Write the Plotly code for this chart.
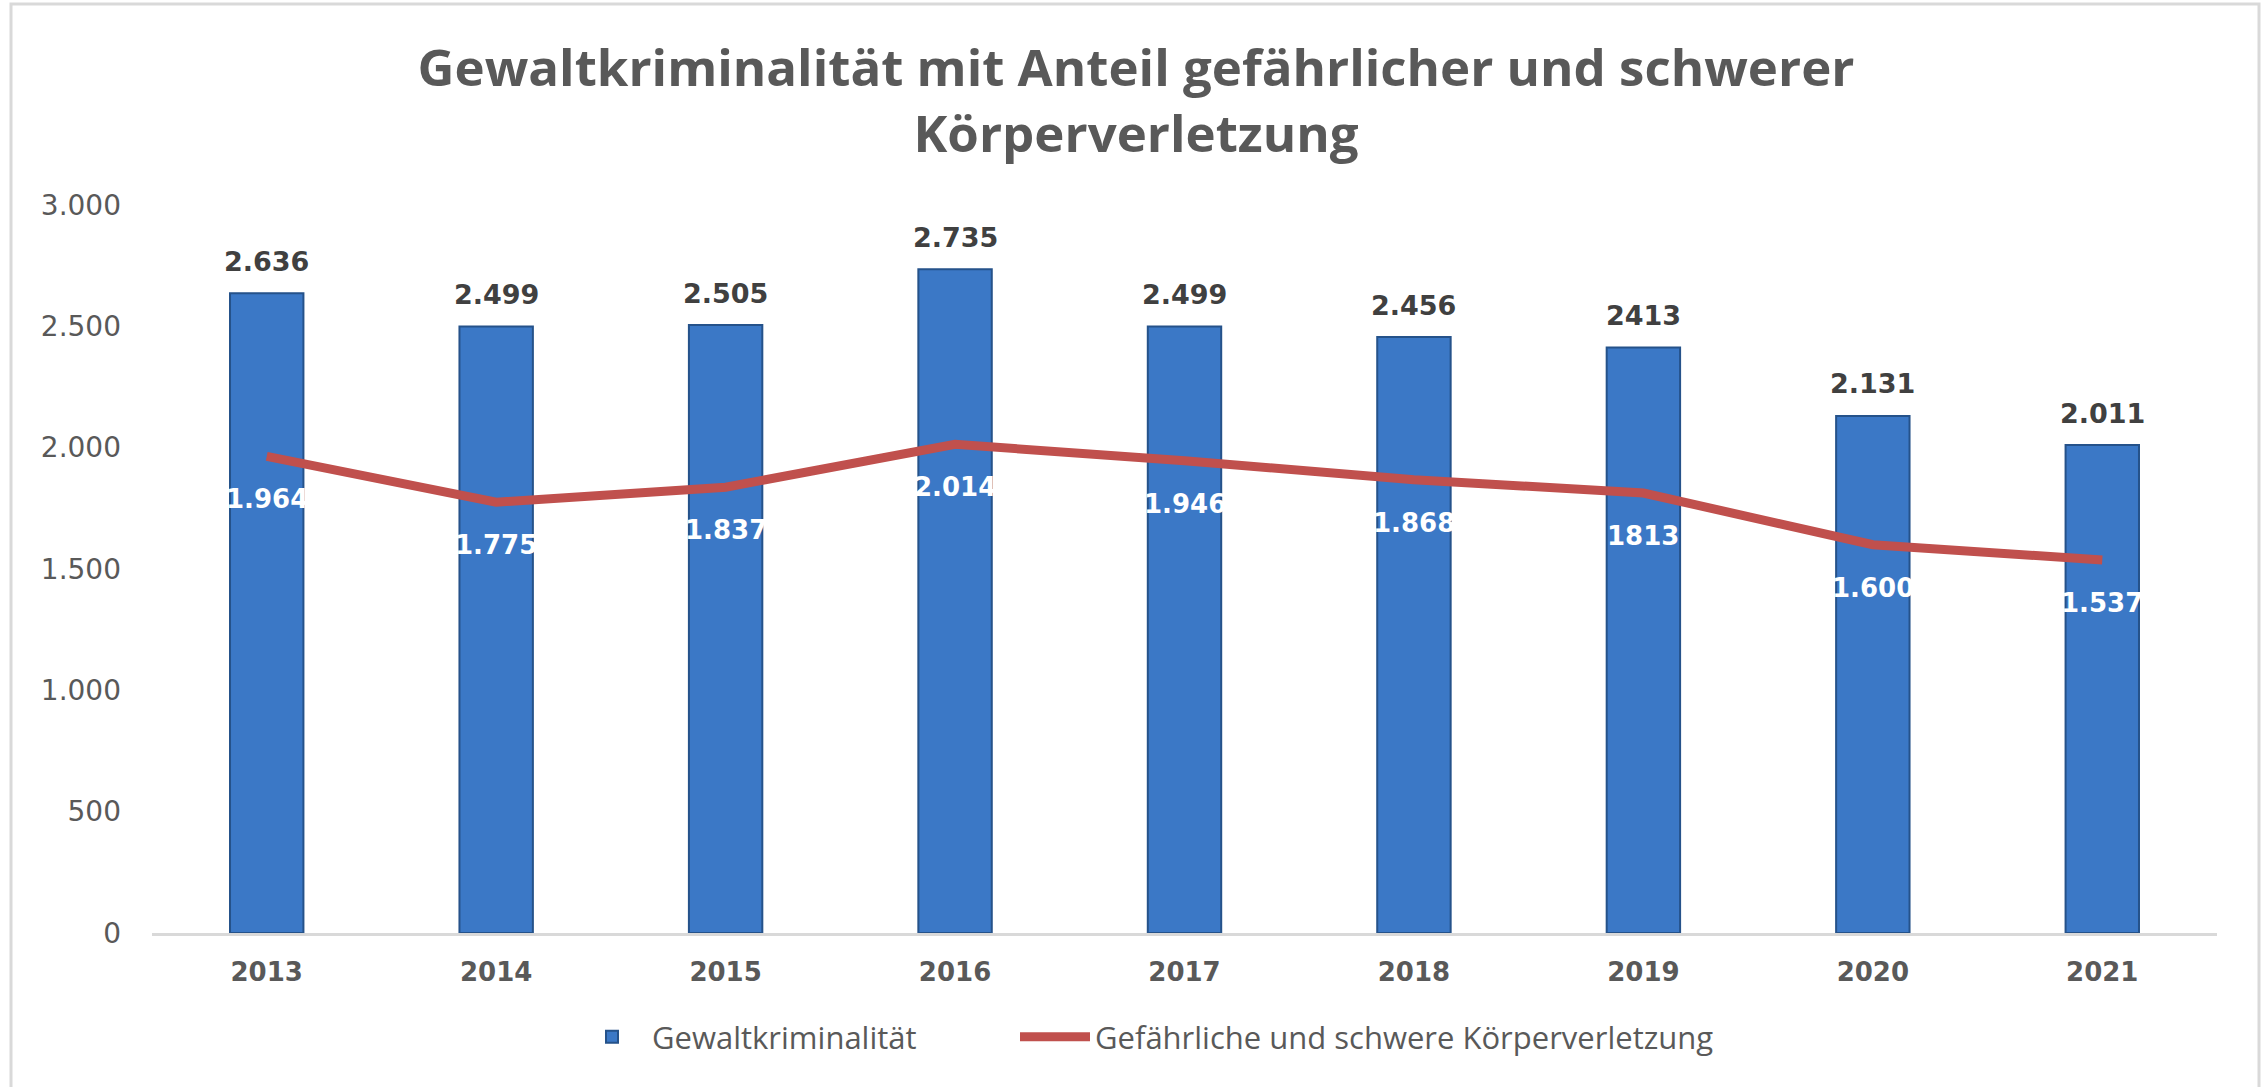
import plotly.graph_objects as go

years = ["2013", "2014", "2015", "2016", "2017", "2018", "2019", "2020", "2021"]
gewalt = [2636, 2499, 2505, 2735, 2499, 2456, 2413, 2131, 2011]
gewalt_labels = ["2.636", "2.499", "2.505", "2.735", "2.499", "2.456", "2413", "2.131", "2.011"]
koerper = [1964, 1775, 1837, 2014, 1946, 1868, 1813, 1600, 1537]
koerper_labels = ["1.964", "1.775", "1.837", "2.014", "1.946", "1.868", "1813", "1.600", "1.537"]
y_ticks = [0, 500, 1000, 1500, 2000, 2500, 3000]
y_tick_labels = ["0", "500", "1.000", "1.500", "2.000", "2.500", "3.000"]

W, H = 2262, 1087
L, R, T, B = 152, 45, 205, 154
pw, ph = W - L - R, H - T - B

fig = go.Figure()
fig.add_trace(go.Bar(
    x=years, y=gewalt, name="Gewaltkriminalität", width=0.32,
    marker=dict(color="#3B78C6", line=dict(color="#25528A", width=2)),
    legend="legend",
))
fig.add_trace(go.Scatter(
    x=years, y=koerper, mode="lines", name="Gefährliche und schwere Körperverletzung",
    line=dict(color="#C0504D", width=9), legend="legend2",
))

for i, (yv, t) in enumerate(zip(gewalt, gewalt_labels)):
    fig.add_annotation(x=i, y=yv, text=t, showarrow=False, yshift=32, yanchor="middle",
                       font=dict(family="DejaVu Sans", size=27, color="#404040", weight="bold"))
for i, (yv, t) in enumerate(zip(koerper, koerper_labels)):
    fig.add_annotation(x=i, y=yv, text=t, showarrow=False, yshift=-43, yanchor="middle",
                       font=dict(family="DejaVu Sans", size=26, color="#FFFFFF", weight="bold"))

fig.add_shape(type="rect", xref="paper", yref="paper",
              x0=(11 - L) / pw, x1=(2259 - L) / pw, y0=-0.4, y1=1 + (T - 4) / ph,
              line=dict(color="#D9D9D9", width=3), fillcolor="rgba(0,0,0,0)", layer="below")

legend_font = dict(family="Open Sans", size=31, color="#595959")
fig.update_layout(
    width=W, height=H,
    margin=dict(l=L, r=R, t=T, b=B),
    paper_bgcolor="white", plot_bgcolor="white",
    title=dict(text="Gewaltkriminalität mit Anteil gefährlicher und schwerer<br>Körperverletzung",
               x=1136 / W, xanchor="center", y=1 - 86 / H, yanchor="middle",
               font=dict(family="Open Sans", size=51, color="#595959", weight="bold")),
    bargap=0.68,
    showlegend=True,
    legend=dict(orientation="h", x=(572 - L) / pw, xanchor="left", y=-(1037 - 933) / ph, yanchor="middle",
                font=legend_font, itemwidth=70),
    legend2=dict(orientation="h", x=(1015 - L) / pw, xanchor="left", y=-(1037 - 933) / ph, yanchor="middle",
                 font=legend_font, itemwidth=70),
    xaxis=dict(type="category", range=[-0.5, 8.5], showgrid=False, showline=True,
               linecolor="#D9D9D9", linewidth=3, ticks="", ticklabelstandoff=14,
               tickfont=dict(family="DejaVu Sans", size=26, color="#595959", weight="bold")),
    yaxis=dict(range=[0, 3000], tickvals=y_ticks, ticktext=y_tick_labels, showgrid=False,
               zeroline=False, showline=False, ticks="", ticklabelstandoff=30,
               tickfont=dict(family="DejaVu Sans", size=28, color="#595959")),
)

fig.write_html("out.html", config={"displayModeBar": False},
               post_script="document.body.style.margin='0';document.body.style.overflow='hidden';")
